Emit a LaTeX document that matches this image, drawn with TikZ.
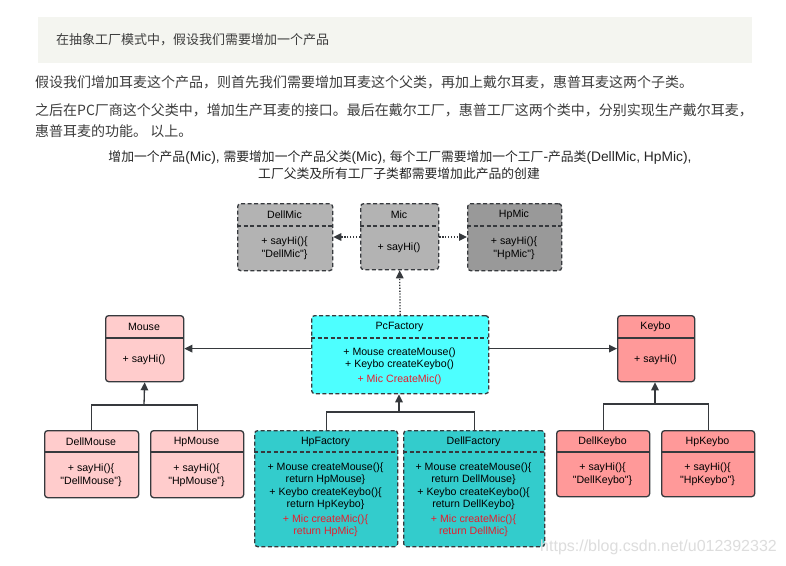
\documentclass[tikz,border=0pt]{standalone}
\usepackage{fontspec}
\setmainfont{Liberation Sans}[Ligatures=TeXOff]
\newfontfamily\cjk{Noto Sans CJK SC}
\usetikzlibrary{arrows.meta,calc}
\definecolor{bord}{HTML}{36393D}
\definecolor{micred}{HTML}{E61E2D}
\definecolor{notebg}{HTML}{F4F5F0}
\definecolor{paratext}{HTML}{3D3D3D}
\definecolor{grayA}{HTML}{B3B3B3}
\definecolor{grayB}{HTML}{999999}
\definecolor{pinkA}{HTML}{FFCCCC}
\definecolor{pinkB}{HTML}{FF9999}
\definecolor{cyanA}{HTML}{4DFFFF}
\definecolor{cyanB}{HTML}{33CCCC}
\definecolor{wmark}{HTML}{DDDDDD}
\newcommand\zh[1]{{\cjk\fontsize{12.8}{12.8}\selectfont #1}}
\tikzset{
  cls/.style={draw=bord, line width=1.3pt, rounded corners=3pt, inner sep=0pt},
  dcls/.style={cls, dash pattern=on 4pt off 2.5pt},
  txt/.style={font=\fontsize{10.6}{12.5}\selectfont, text=black, align=center, inner sep=0pt},
  conn/.style={draw=bord, line width=1.3pt},
  tip/.style={-{Triangle[length=8pt,width=7.5pt]}},
  dots/.style={conn, dash pattern=on 1.3pt off 1.6pt},
  para/.style={font=\cjk\fontsize{14}{14}\selectfont, text=paratext, anchor=west, inner sep=0pt},
  capt/.style={font=\fontsize{13.8}{13.8}\selectfont, text=black!85, inner sep=0pt},
}
% name, left, top, right, bottom, divider y, style, title, body
\newcommand\umlbox[9]{%
  \node[#7, minimum width={#4-#2}, minimum height={#5-#3}, anchor=north west] (#1) at (#2,#3) {};
  \draw[#7, fill=none, rounded corners=0pt] (#2,#6) -- (#4,#6);
  \node[txt] (#1-t) at ({(#2+#4)/2},{(#3+#6)/2+0.5}) {#8};
  \node[txt] (#1-b) at ({(#2+#4)/2},{(#6+#5)/2+0.5}) {#9};
}
\begin{document}
\begin{tikzpicture}[x=1pt,y=-1pt]
\useasboundingbox[fill=white] (0,0) rectangle (786,565);
% note box
\node[fill=notebg, minimum width=714, minimum height=46, anchor=north west, inner sep=0pt] (note) at (38,17) {};
\node[para, font=\cjk\fontsize{13}{13}\selectfont] (notetext) at (56,40) {在抽象工厂模式中，假设我们需要增加一个产品};
% paragraph
\node[para] (p1) at (35,82) {假设我们增加耳麦这个产品，则首先我们需要增加耳麦这个父类，再加上戴尔耳麦，惠普耳麦这两个子类。};
\node[para] (p2) at (35,110) {之后在PC厂商这个父类中，增加生产耳麦的接口。最后在戴尔工厂，惠普工厂这两个类中，分别实现生产戴尔耳麦，};
\node[para] (p3) at (35,131) {惠普耳麦的功能。 以上。};
% caption
\node[capt] (c1) at (400,158) {\zh{增加一个产品}(Mic), \zh{需要增加一个产品父类}(Mic), \zh{每个工厂需要增加一个工厂}-\zh{产品类}(DellMic, HpMic),};
\node[capt] (c2) at (399,174) {\zh{工厂父类及所有工厂子类都需要增加此产品的创建}};
% classes
\umlbox{dellmic}{237}{203}{332}{270}{226}{dcls,fill=grayA}{DellMic}{+ sayHi()\{\\"DellMic"\}}
\umlbox{mic}{360}{203}{438}{269}{226}{dcls,fill=grayA}{Mic}{+ sayHi()}
\umlbox{hpmic}{467}{203}{561}{270}{226}{dcls,fill=grayB}{HpMic}{+ sayHi()\{\\"HpMic"\}}
\umlbox{mouse}{105}{315}{183}{381}{338}{cls,fill=pinkA}{Mouse}{+ sayHi()}
\umlbox{pcf}{311}{315}{488}{393}{338}{dcls,fill=cyanA}{PcFactory}{+ Mouse createMouse()\\+ Keybo createKeybo()\\[2pt]\textcolor{micred}{+ Mic CreateMic()}}
\umlbox{keybo}{617}{315}{694}{381}{338}{cls,fill=pinkB}{Keybo}{+ sayHi()}
\umlbox{dellmouse}{44}{430}{138}{497}{452}{cls,fill=pinkA}{DellMouse}{+ sayHi()\{\\"DellMouse"\}}
\umlbox{hpmouse}{150}{430}{243}{497}{452}{cls,fill=pinkA}{HpMouse}{+ sayHi()\{\\"HpMouse"\}}
\umlbox{hpf}{254}{430}{397}{546}{452}{dcls,fill=cyanB}{HpFactory}{+ Mouse createMouse()\{\\return HpMouse\}\\+ Keybo createKeybo()\{\\return HpKeybo\}\\[2pt]\textcolor{micred}{+ Mic createMic()\{}\\\textcolor{micred}{return HpMic\}}}
\umlbox{dellf}{403}{430}{544}{546}{452}{dcls,fill=cyanB}{DellFactory}{+ Mouse createMouse()\{\\return DellMouse\}\\+ Keybo createKeybo()\{\\return DellKeybo\}\\[2pt]\textcolor{micred}{+ Mic createMic()\{}\\\textcolor{micred}{return DellMic\}}}
\umlbox{dellkeybo}{556}{430}{649}{496}{452}{cls,fill=pinkB}{DellKeybo}{+ sayHi()\{\\"DellKeybo"\}}
\umlbox{hpkeybo}{661}{430}{754}{496}{452}{cls,fill=pinkB}{HpKeybo}{+ sayHi()\{\\"HpKeybo"\}}
% dotted dependencies
\draw[dots,tip] (mic.west |- 0,237) -- (dellmic.east |- 0,237);
\draw[dots,tip] (mic.east |- 0,237) -- (hpmic.west |- 0,237);
\draw[dots,tip] (pcf.north) -- (mic.south);
% product associations
\draw[conn,tip] (pcf.west |- mouse.east) -- (mouse.east);
\draw[conn,tip] (pcf.east |- keybo.west) -- (keybo.west);
% inheritance trees
\coordinate (busM) at (144,405);
\coordinate (busF) at (399,412);
\coordinate (busK) at (655,404);
\draw[conn] (dellmouse.north) |- (busM) -| (hpmouse.north);
\draw[conn,tip] (busM) -- (mouse.south);
\draw[conn] (hpf.north) |- (busF) -| (dellf.north);
\draw[conn,tip] (busF) -- (busF |- pcf.south);
\draw[conn] (dellkeybo.north) |- (busK) -| (hpkeybo.north);
\draw[conn,tip] (busK) -- (busK |- keybo.south);
% watermark
\node[font=\fontsize{16}{16}\selectfont, text=wmark, anchor=west, inner sep=0pt] (wm) at (540,547) {https://blog.csdn.net/u012392332};
\end{tikzpicture}
\end{document}
